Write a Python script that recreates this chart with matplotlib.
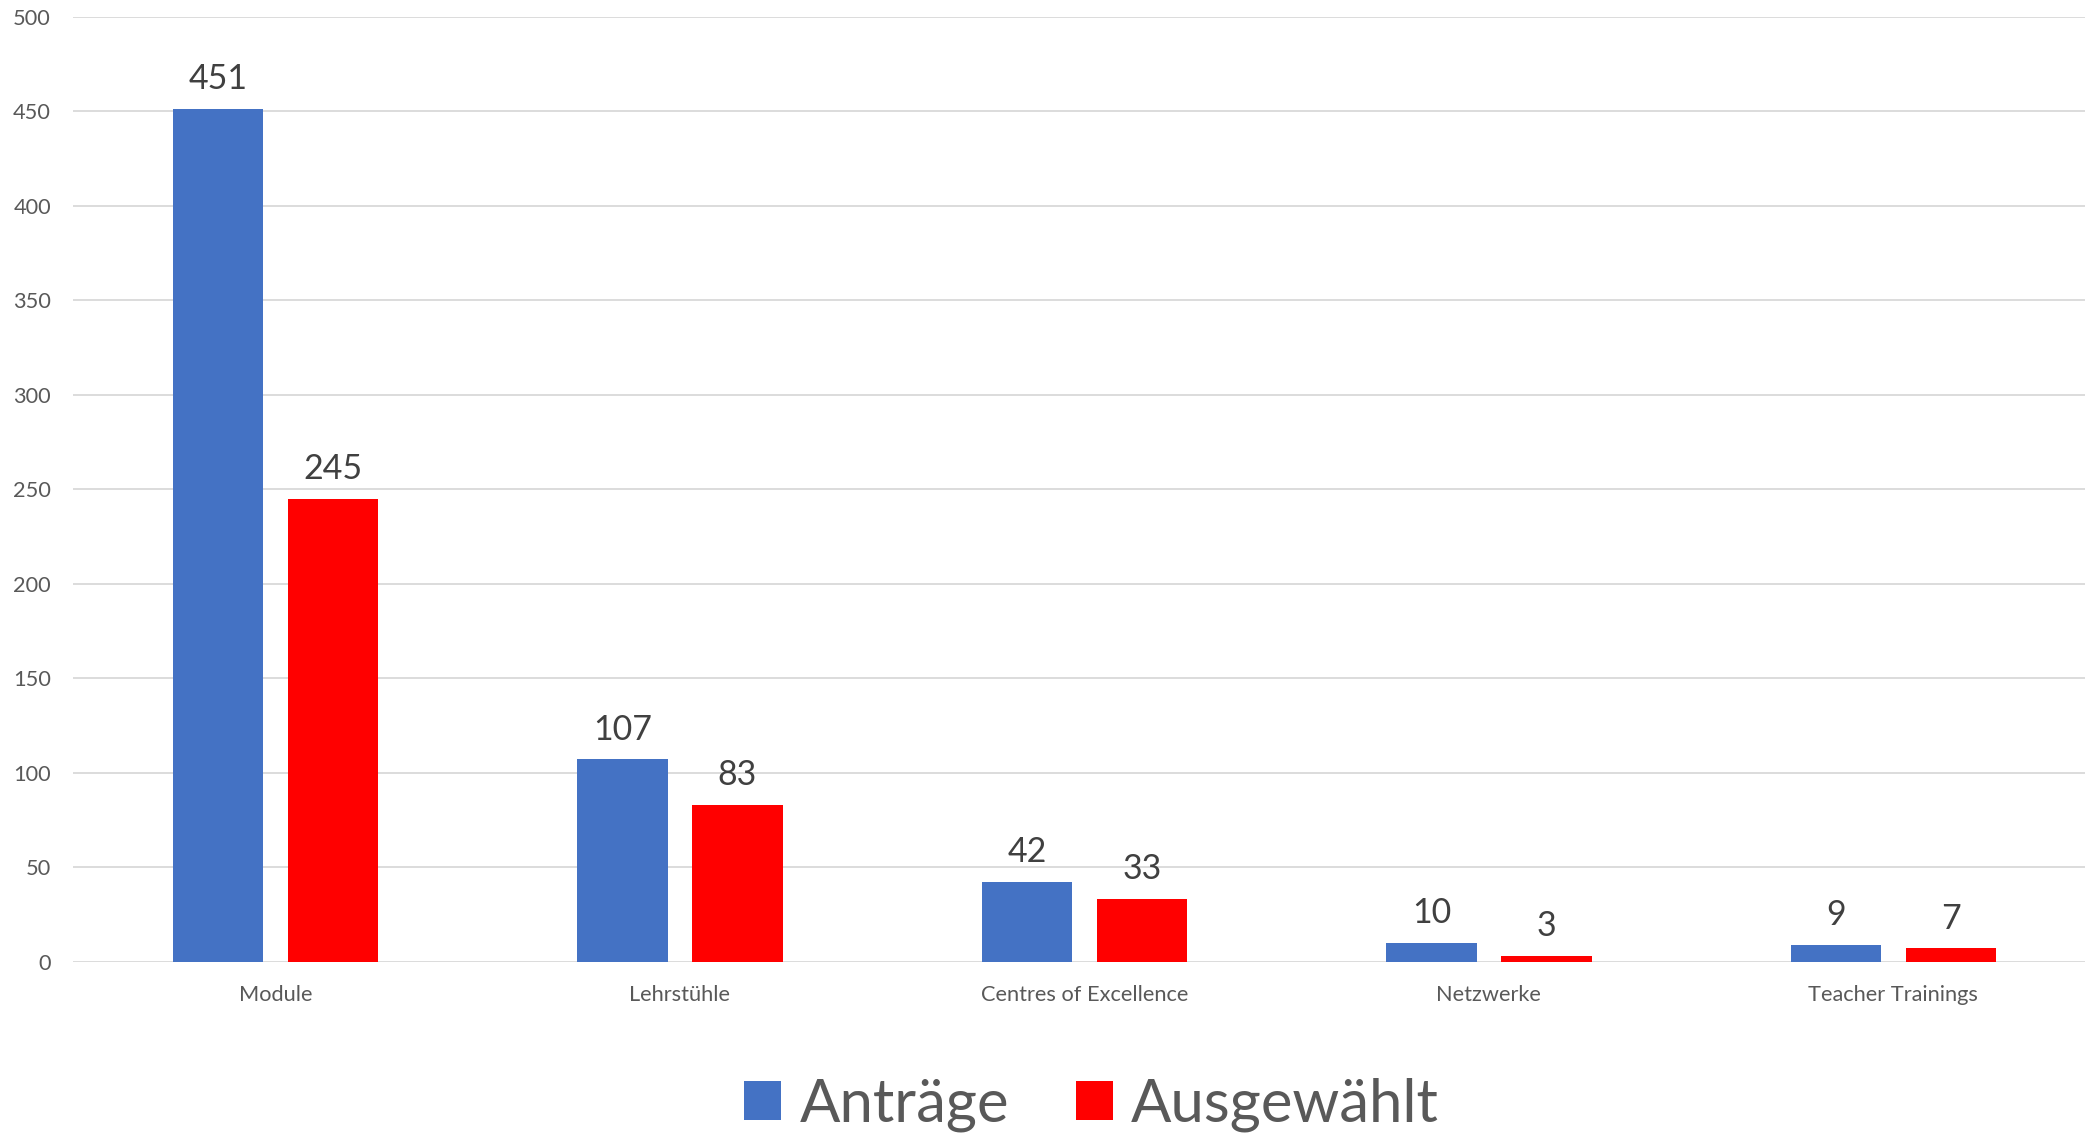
import matplotlib
matplotlib.use("Agg")
import matplotlib.pyplot as plt
import numpy as np

categories = ["Module", "Lehrstühle", "Centres of Excellence", "Netzwerke", "Teacher Trainings"]
antraege = [451, 107, 42, 10, 9]
ausgewaehlt = [245, 83, 33, 3, 7]
series_names = ["Anträge", "Ausgewählt"]
yticks = [0, 50, 100, 150, 200, 250, 300, 350, 400, 450, 500]

plt.rcParams['font.family'] = ['Lato', 'DejaVu Sans']

fig = plt.figure(figsize=(20.85, 11.33), dpi=100)
ax = fig.add_axes([0.0351, 0.1512, 0.970, 0.8342])

x = np.arange(len(categories))
w = 0.224
off = 0.142
b1 = ax.bar(x - off, antraege, w, color="#4472C4", label=series_names[0], zorder=3)
b2 = ax.bar(x + off, ausgewaehlt, w, color="#FF0000", label=series_names[1], zorder=3)

for bars, vals in ((b1, antraege), (b2, ausgewaehlt)):
    for r, v in zip(bars, vals):
        ax.annotate(str(v), (r.get_x() + r.get_width() / 2, v), xytext=(0, 10),
                    textcoords="offset points", ha="center", va="bottom",
                    fontsize=24.5, color="#404040")

ax.set_xlim(-0.5, len(categories) - 0.5)
ax.set_ylim(0, 500)
ax.set_yticks(yticks)
ax.set_xticks(x)
ax.set_xticklabels(categories)
ax.tick_params(axis="both", length=0, labelsize=15.7, labelcolor="#595959")
ax.tick_params(axis="y", pad=16)
ax.tick_params(axis="x", pad=17)
ax.grid(axis="y", color="#D9D9D9", linewidth=1.3, zorder=0)
for s in ax.spines.values():
    s.set_visible(False)

leg = fig.legend(loc="center", bbox_to_anchor=(0.5235, 0.025), ncol=2, frameon=False,
                 fontsize=43, handlelength=0.62, handleheight=0.62,
                 handletextpad=0.3, columnspacing=1.12)
for t in leg.get_texts():
    t.set_color("#595959")

fig.savefig("out.png", dpi=100)
